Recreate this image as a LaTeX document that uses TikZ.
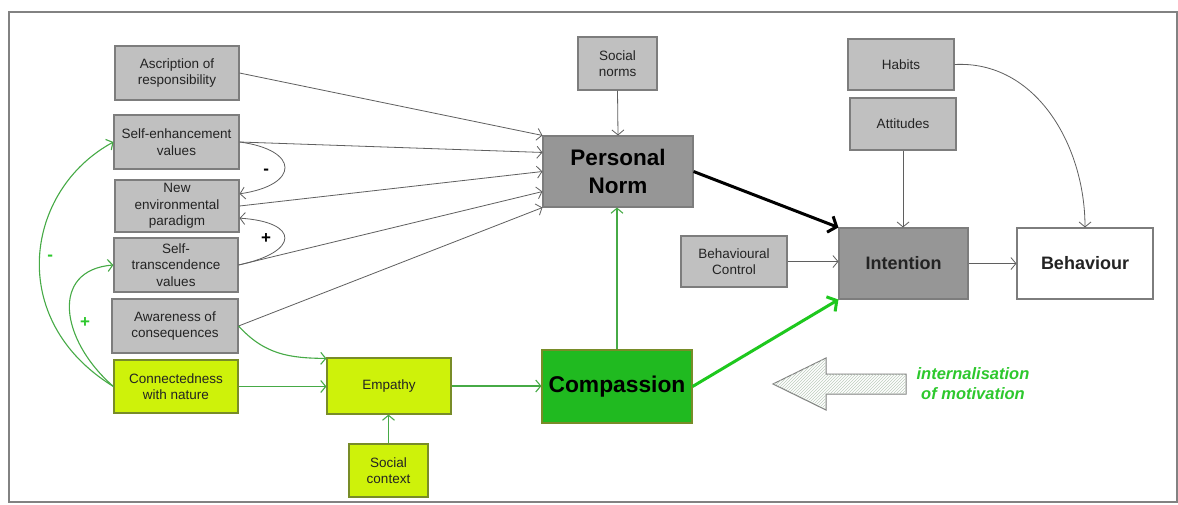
\documentclass[tikz,border=0pt]{standalone}
\usepackage{fontspec}
\setmainfont{Liberation Sans}
\usetikzlibrary{arrows.meta,patterns}

\definecolor{boxgray}{RGB}{192,192,192}
\definecolor{darkbox}{RGB}{150,150,150}
\definecolor{edgegray}{RGB}{125,125,125}
\definecolor{linegray}{RGB}{95,95,95}
\definecolor{textdark}{RGB}{35,35,35}
\definecolor{lime}{RGB}{206,242,10}
\definecolor{limeedge}{RGB}{120,140,40}
\definecolor{compgreen}{RGB}{32,186,32}
\definecolor{linkgreen}{RGB}{70,170,70}
\definecolor{boldgreen}{RGB}{30,200,30}
\definecolor{labelgreen}{RGB}{45,200,45}
\definecolor{framegray}{RGB}{130,130,130}
\definecolor{hatchgray}{RGB}{190,205,190}

\begin{document}
\begin{tikzpicture}[x=1pt,y=-1pt,
  box/.style={draw=edgegray, line width=1.1pt, fill=boxgray, align=center,
    inner sep=0pt, text=textdark, font=\fontsize{13.5}{16.5}\selectfont},
  limebox/.style={box, fill=lime, draw=limeedge},
  bigbox/.style={box, fill=darkbox, text=black,
    font=\fontsize{22.5}{28}\selectfont\bfseries},
  midbox/.style={box, font=\fontsize{18}{22}\selectfont\bfseries},
  arr/.style={draw=linegray, line width=0.8pt,
    -{Straight Barb[length=5pt,width=12pt]}},
  garr/.style={draw=linkgreen, line width=1.1pt,
    -{Straight Barb[length=5pt,width=12pt]}},
  thickarr/.style={line width=3pt, -{Straight Barb[length=7pt,width=17pt]}},
  sign/.style={font=\fontsize{17}{17}\selectfont\bfseries}
]
\useasboundingbox (0,0) rectangle (1178,504);
\fill[white] (0,0) rectangle (1178,504);

% slide frame
\draw[framegray, line width=1.6pt] (9,12) rectangle (1177,502);

% left column of antecedents
\node[box, minimum width=124pt, minimum height=54pt] (asc) at (177,73) {Ascription of\\responsibility};
\node[box, minimum width=125pt, minimum height=54pt] (senh) at (176.5,142) {Self-enhancement\\values};
\node[box, minimum width=124pt, minimum height=52pt] (nep) at (177,206) {New\\environmental\\paradigm};
\node[box, minimum width=124pt, minimum height=54pt] (strans) at (176,265) {Self-\\transcendence\\values};
\node[box, minimum width=126pt, minimum height=54pt] (aware) at (175,326) {Awareness of\\consequences};
\node[limebox, minimum width=124pt, minimum height=53pt] (conn) at (176,386.5) {Connectedness\\with nature};

% empathy path
\node[limebox, minimum width=124pt, minimum height=56pt] (emp) at (389,386) {Empathy};
\node[limebox, minimum width=79pt, minimum height=53pt] (soc) at (388.5,470.5) {Social\\context};
\node[box, fill=compgreen, draw=limeedge, text=black, minimum width=150pt, minimum height=73pt,
  font=\fontsize{22.8}{28}\selectfont\bfseries] (comp) at (617,386.5) {Compassion};

% norm and intention
\node[bigbox, minimum width=150pt, minimum height=71pt] (pn) at (618,171.5) {Personal\\Norm};
\node[box, minimum width=79pt, minimum height=53pt] (snorm) at (617.5,63.5) {Social\\norms};
\node[box, minimum width=106pt, minimum height=51pt] (bc) at (734,261.5) {Behavioural\\Control};
\node[midbox, fill=darkbox, minimum width=129pt, minimum height=71pt] (int) at (903.5,263.5) {Intention};
\node[midbox, fill=white, minimum width=136pt, minimum height=71pt] (beh) at (1085,263.5) {Behaviour};
\node[box, minimum width=106pt, minimum height=51pt] (hab) at (901,64.5) {Habits};
\node[box, minimum width=106pt, minimum height=52pt] (att) at (903,124) {Attitudes};

% arrows into personal norm
\draw[arr] (asc.east) -- (pn.north west);
\draw[arr] (senh.east) -- ([yshift=-17pt]pn.north west);
\draw[arr] (nep.east) -- (pn.west);
\draw[arr] (strans.east) -- ([yshift=16pt]pn.south west);
\draw[arr] (aware.east) -- (pn.south west);
\draw[arr] (snorm.south) -- (pn.north);

% value interactions
\draw[arr] (senh.east) .. controls (300,150) and (300,185) .. (nep.11)
  node[sign, pos=0.5, left=12pt, yshift=-4pt] {-};
\draw[arr] (strans.east) .. controls (300,252) and (300,222) .. (nep.-11)
  node[sign, pos=0.5, left=10pt] {+};

% connectedness links
\draw[garr] (conn.west) .. controls (5,320) and (25,190) .. (senh.west)
  node[sign, text=labelgreen, pos=0.5, right=4pt] {-};
\draw[garr] (conn.west) .. controls (60,340) and (50,270) .. (strans.west)
  node[sign, text=labelgreen, pos=0.42, right=5pt] {+};
\draw[garr] (aware.east) .. controls (265,355) and (290,358) .. ([yshift=-1pt]emp.north west);
\draw[garr] (conn.east) -- (emp.west |- conn.east);
\draw[garr] (soc.north) -- (soc.north |- emp.south);
\draw[garr] (emp.east) -- (comp.west |- emp.east);
\draw[garr] (comp.north) -- (comp.north |- pn.south);

% into intention and behaviour
\draw[thickarr, black] (pn.east) -- (int.north west);
\draw[thickarr, boldgreen] (comp.east) -- (int.south west);
\draw[arr] (bc.east) -- (int.west |- bc.east);
\draw[arr] (att.south) -- (att.south |- int.north);
\draw[arr] (int.east) -- (beh.west);
\draw[arr] (hab.east) to[out=3, in=90] (beh.north);

% internalisation arrow
\draw[edgegray, line width=1pt, fill=white,
  postaction={pattern=north east lines, pattern color=hatchgray}]
  (773,384) -- (826,358) -- (826,374) -- (906,374) -- (906,394)
  -- (826,394) -- (826,410) -- cycle;
\node[text=labelgreen, align=center, font=\fontsize{16.5}{20}\selectfont\bfseries\itshape]
  (intern) at (973,384) {internalisation\\of motivation};
\end{tikzpicture}
\end{document}
